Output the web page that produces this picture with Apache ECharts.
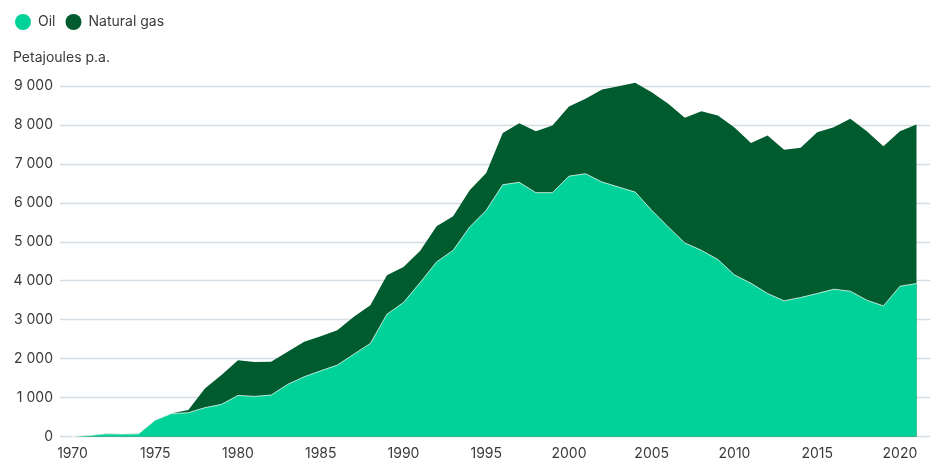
<!DOCTYPE html>
<html>
<head>
<meta charset="utf-8">
<script src="https://cdn.jsdelivr.net/npm/echarts@6/dist/echarts.min.js"></script>
<style>
html,body{margin:0;padding:0;background:#fff;}
#chart{width:933px;height:466px;}
</style>
</head>
<body>
<div id="chart"></div>
<script>
const years = [1970,1971,1972,1973,1974,1975,1976,1977,1978,1979,1980,1981,1982,1983,1984,1985,1986,1987,1988,1989,1990,1991,1992,1993,1994,1995,1996,1997,1998,1999,2000,2001,2002,2003,2004,2005,2006,2007,2008,2009,2010,2011,2012,2013,2014,2015,2016,2017,2018,2019,2020,2021];
const oil = [0,25,70,65,70,420,590,610,740,825,1055,1030,1064,1338,1534,1688,1833,2115,2389,3141,3440,3950,4483,4782,5380,5808,6466,6526,6261,6261,6685,6748,6534,6405,6277,5808,5380,4970,4782,4543,4150,3935,3672,3483,3569,3672,3782,3731,3500,3354,3859,3928];
const gas = [0,0,0,0,0,0,10,70,495,752,905,885,854,837,897,889,898,957,983,1000,914,810,914,872,941,957,1324,1520,1580,1726,1789,1923,2376,2590,2805,3033,3163,3214,3572,3701,3785,3603,4059,3881,3846,4143,4162,4428,4341,4102,3982,4085];
const xTickLabels = [1970,1975,1980,1985,1990,1995,2000,2005,2010,2015,2020];

const FONT = 'Inter, "Noto Sans", sans-serif';
const TXT = '#3a3a3a';
const OIL_C = '#00d29a';
const GAS_C = '#005b2e';

// stacked: gas sits on top of oil (drawn as cumulative area behind the oil area)
const oilData = years.map((y, i) => [y, oil[i]]);
const gasStackData = years.map((y, i) => [y, oil[i] + gas[i]]);

const chart = echarts.init(document.getElementById('chart'), null, {renderer:'canvas'});
chart.setOption({
  animation: false,
  textStyle: {fontFamily: FONT},
  title: {
    text: 'Petajoules p.a.',
    left: 8, top: 46,
    textStyle: {fontFamily: FONT, fontSize: 14, fontWeight: 'normal', color: TXT}
  },
  legend: {
    left: 10, top: 9,
    icon: 'circle',
    itemWidth: 16, itemHeight: 16, itemGap: 10,
    textStyle: {fontFamily: FONT, fontSize: 14, color: TXT, padding: [0,0,0,2]},
    data: ['Oil','Natural gas']
  },
  grid: {left: 60, right: 3, top: 86, bottom: 29.5},
  xAxis: {
    type: 'value',
    min: 1969.245, max: 2021.816,
    axisLine: {show: false},
    axisTick: {show: false},
    splitLine: {show: false},
    axisLabel: {
      customValues: xTickLabels,
      margin: 10,
      fontFamily: FONT, fontSize: 14, color: TXT,
      formatter: v => String(v)
    }
  },
  yAxis: {
    type: 'value',
    min: 0, max: 9000, interval: 1000,
    axisLine: {show: false},
    axisTick: {show: false},
    splitLine: {lineStyle: {color: '#d3dce3', width: 1.3}},
    axisLabel: {
      margin: 7,
      fontFamily: FONT, fontSize: 14, color: TXT,
      formatter: v => String(v).replace(/\B(?=(\d{3})+(?!\d))/g, ' ')
    }
  },
  series: [
    {
      name: 'Natural gas', type: 'line',
      data: gasStackData,
      showSymbol: false, clip: false, z: 2,
      itemStyle: {color: GAS_C},
      lineStyle: {width: 0},
      areaStyle: {color: GAS_C, opacity: 1, origin: 'start'}
    },
    {
      name: 'Oil', type: 'line',
      data: oilData,
      showSymbol: false, clip: false, z: 3,
      itemStyle: {color: OIL_C},
      lineStyle: {color: 'rgba(255,255,255,0.75)', width: 1},
      areaStyle: {color: OIL_C, opacity: 1, origin: 'start'}
    }
  ]
});
</script>
</body>
</html>
